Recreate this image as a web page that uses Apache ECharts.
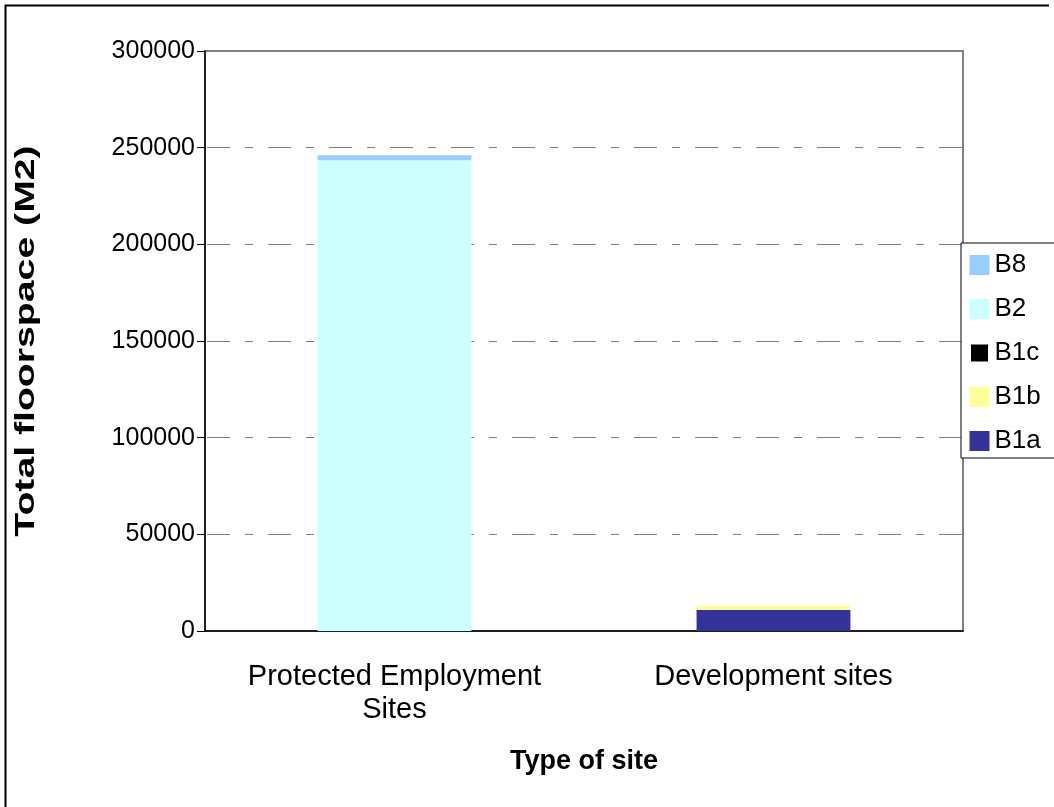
<!DOCTYPE html>
<html>
<head>
<meta charset="utf-8">
<script src="https://cdn.jsdelivr.net/npm/echarts@6/dist/echarts.min.js"></script>
<style>
  html, body { margin: 0; padding: 0; background: #fff; }
  #chart { width: 1054px; height: 807px; }
</style>
</head>
<body>
<div id="chart"></div>
<script>
var categories = ["Protected Employment\nSites", "Development sites"];
var seriesNames = ["B1a", "B1b", "B1c", "B2", "B8"];
var b1a = [0, 10900];
var b1b = [0, 2200];
var b1c = [0, 0];
var b2 = [243500, 0];
var b8 = [2600, 0];
var yTicks = { min: 0, max: 300000, interval: 50000 };
var yTitle = "Total floorspace (M2)";

var colors = {
  B1a: "#333399",
  B1b: "#FFFF99",
  B1c: "#000000",
  B2: "#CCFFFF",
  B8: "#99CCFF"
};
var values = { B1a: b1a, B1b: b1b, B1c: b1c, B2: b2, B8: b8 };

var font = "Liberation Sans, Arial, sans-serif";

var chart = echarts.init(document.getElementById("chart"));

var series = seriesNames.map(function (n) {
  return {
    name: n,
    type: "bar",
    stack: "total",
    barWidth: "40.6%",
    itemStyle: { color: colors[n] },
    data: values[n]
  };
});

var option = {
  animation: false,
  textStyle: { fontFamily: font },
  grid: {
    left: 205,
    right: 91,
    top: 51,
    bottom: 176,
    show: true,
    borderColor: "#808080",
    borderWidth: 2,
    backgroundColor: "#fff"
  },
  legend: {
    orient: "vertical",
    left: 961,
    top: 243,
    padding: [9, 60, 4, 7],
    itemWidth: 20,
    itemHeight: 20,
    itemGap: 18,
    backgroundColor: "#fff",
    borderColor: "#000",
    borderWidth: 1,
    borderRadius: 0,
    icon: "rect",
    textStyle: { fontSize: 26, color: "#000", fontFamily: font },
    data: [
      { name: "B8" },
      { name: "B2" },
      { name: "B1c", itemStyle: { borderColor: "#fff", borderWidth: 3 } },
      { name: "B1b" },
      { name: "B1a" }
    ]
  },
  xAxis: {
    type: "category",
    data: categories,
    name: "Type of site",
    nameLocation: "middle",
    nameGap: 117,
    nameTextStyle: { fontSize: 27, fontWeight: "bold", color: "#000", fontFamily: font },
    axisLine: { lineStyle: { color: "#000", width: 1.5 } },
    axisTick: { length: 8, lineStyle: { color: "#000" } },
    axisLabel: { interval: 0, fontSize: 29, color: "#000", margin: 29, lineHeight: 33, fontFamily: font }
  },
  yAxis: {
    type: "value",
    min: yTicks.min,
    max: yTicks.max,
    interval: yTicks.interval,
    axisLine: { show: true, lineStyle: { color: "#000", width: 1.5 } },
    axisTick: { show: true, length: 8, lineStyle: { color: "#000" } },
    axisLabel: {
      fontSize: 25,
      color: "#000",
      margin: 10,
      fontFamily: font,
      formatter: function (v) { return String(v); }
    },
    splitLine: {
      show: true,
      lineStyle: { color: "#808080", type: [23, 15, 8, 15], dashOffset: 59, width: 1 }
    }
  },
  graphic: [
    {
      type: "polyline",
      shape: { points: [[5.5, 807], [5.5, 5.5], [1049, 5.5]] },
      style: { stroke: "#000", lineWidth: 2, fill: null },
      z: 100
    },
    {
      // axis title, stretched along its length like the original
      type: "text",
      x: 26,
      y: 341,
      rotation: Math.PI / 2,
      scaleX: 1.4,
      style: {
        text: yTitle,
        font: "bold 28px " + font,
        fill: "#000",
        align: "center",
        verticalAlign: "middle"
      }
    }
  ],
  series: series
};

chart.setOption(option);
</script>
</body>
</html>
